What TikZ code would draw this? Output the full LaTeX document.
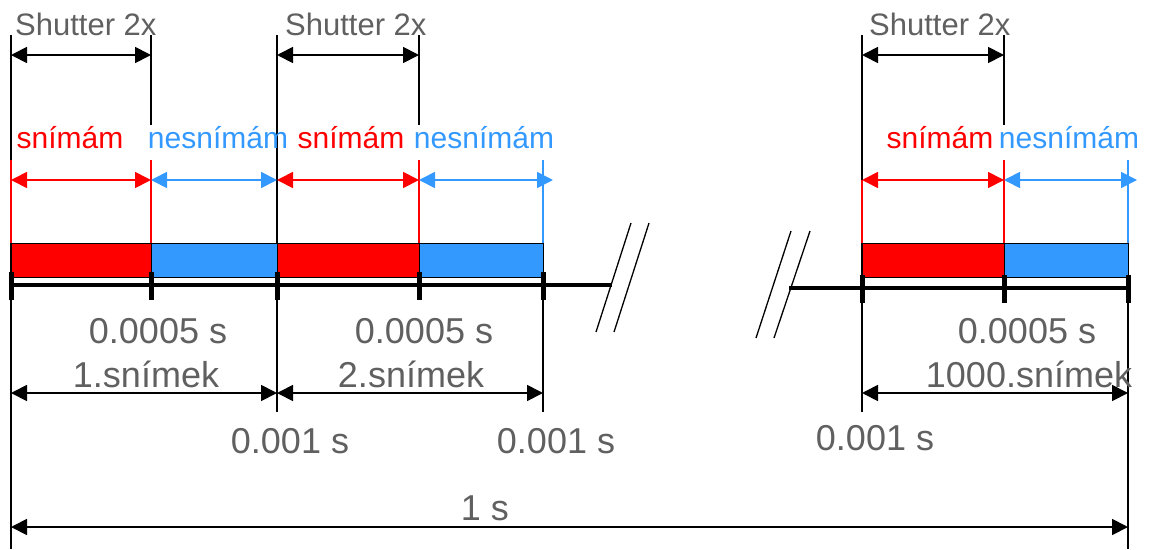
\documentclass[tikz,border=0pt]{standalone}
\usepackage{fontspec}
\setmainfont{Liberation Sans}
\usetikzlibrary{positioning,arrows.meta,calc}
\definecolor{shotred}{RGB}{255,0,0}
\definecolor{idleblue}{RGB}{51,153,255}
\definecolor{labgray}{RGB}{96,96,96}

\begin{document}
\begin{tikzpicture}[x=1pt,y=-1pt,
  dim/.style={{Triangle[length=16pt,width=16pt]}-{Triangle[length=16pt,width=16pt]},line width=1.8pt},
  guide/.style={line width=1.3pt},
  cguide/.style={line width=1.1pt},
  axisline/.style={line width=4.5pt},
  axistick/.style={line width=5pt},
  timelab/.style={text=labgray,font=\fontsize{36}{36}\selectfont,inner sep=0pt,anchor=base},
  shutlab/.style={text=labgray,font=\fontsize{31}{31}\selectfont,inner sep=0pt,anchor=base west},
  phaselab/.style={font=\fontsize{30}{30}\selectfont,inner sep=0pt,anchor=base}]
\useasboundingbox (0,0) rectangle (1153,549);
% time points on the axis (first two frames, then the last one)
\foreach \n/\x in {a0/11,a1/151,a2/277,a3/419,a4/543}{\coordinate (\n) at (\x,285);}
\foreach \n/\x in {b0/862,b1/1004,b2/1128}{\coordinate (\n) at (\x,288);}
% levels
\coordinate (lvTop) at (0,35);   \coordinate (lvShut) at (0,55);
\coordinate (lvMid) at (0,125);  \coordinate (lvCol) at (0,160);
\coordinate (lvPhase) at (0,180);\coordinate (lvBarT) at (0,243);
\coordinate (lvBarB) at (0,277); \coordinate (lvTickB) at (0,300);
\coordinate (lvFrame) at (0,393);\coordinate (lvLow) at (0,412);
\coordinate (lvTotal) at (0,527);\coordinate (lvBot) at (0,549);
% black guide lines
\draw[guide] (a0 |- lvTop) -- (a0 |- lvBot);
\foreach \p in {a1,a3,b1}{\draw[guide] (\p |- lvTop) -- (\p |- lvMid);}
\foreach \p in {a2,b0}{\draw[guide] (\p |- lvTop) -- (\p |- lvLow);}
\draw[guide] (a4 |- lvTickB) -- (a4 |- lvLow);
\draw[guide] (b2 |- lvTickB) -- (b2 |- lvBot);
% coloured guide lines
\foreach \p in {a0,a1,a3,b1}{\draw[cguide,shotred] (\p |- lvCol) -- (\p |- lvBarT);}
\draw[cguide,shotred] (b0 |- lvPhase) -- (b0 |- lvBarT);
\foreach \p in {a4,b2}{\draw[cguide,idleblue] (\p |- lvCol) -- (\p |- lvBarT);}
% exposure bars
\foreach \p/\q/\c in {a0/a1/shotred,a1/a2/idleblue,a2/a3/shotred,a3/a4/idleblue,b0/b1/shotred,b1/b2/idleblue}{
  \filldraw[fill=\c,draw=black,line width=1pt] (\p |- lvBarT) rectangle (\q |- lvBarB);
}
% time axis with break
\coordinate (brkL) at (612,285);
\coordinate (brkR) at (789,288);
\draw[axisline] (a0) -- (brkL);
\draw[axisline] (brkR) -- (b2);
\foreach \p in {a0,a1,a2,a3,a4,b0,b1,b2}{\draw[axistick] ($(\p)+(0,-13)$) -- ($(\p)+(0,15)$);}
\draw[guide] (631,223) -- (596,332);
\draw[guide] (649,223) -- (614,332);
\draw[guide] (791,231) -- (756,338);
\draw[guide] (810,231) -- (774,338);
% shutter spans
\foreach \p/\q/\x in {a0/a1/15,a2/a3/285,b0/b1/869}{
  \draw[dim] (\p |- lvShut) -- (\q |- lvShut);
  \node[shutlab] (shut\p) at (\x,35) {Shutter 2x};
}
% exposure / idle spans
\coordinate (endA) at ($(a4 |- lvPhase)+(10,0)$);
\coordinate (endB) at ($(b2 |- lvPhase)+(9,0)$);
\foreach \p/\q in {a0/a1,a2/a3,b0/b1}{\draw[dim,shotred] (\p |- lvPhase) -- (\q |- lvPhase);}
\draw[dim,idleblue] (a1 |- lvPhase) -- (a2 |- lvPhase);
\draw[dim,idleblue] (a3 |- lvPhase) -- (endA);
\draw[dim,idleblue] (b1 |- lvPhase) -- (endB);
\foreach \x/\n in {70/1,351/2,940/3}{\node[phaselab,text=shotred] (on\n) at (\x,148) {snímám};}
\foreach \x/\n in {218/1,484/2,1069/3}{\node[phaselab,text=idleblue] (off\n) at (\x,148) {nesnímám};}
% frame spans
\draw[dim] (a0 |- lvFrame) -- (a2 |- lvFrame);
\draw[dim] (a2 |- lvFrame) -- (a4 |- lvFrame);
\draw[dim] (b0 |- lvFrame) -- (b2 |- lvFrame);
\draw[dim] (a0 |- lvTotal) -- (b2 |- lvTotal);
\foreach \x/\n in {158/1,424/2,1027/3}{\node[timelab] (half\n) at (\x,343) {0.0005 s};}
\node[timelab] (fr1) at (146,387) {1.snímek};
\node[timelab] (fr2) at (411,387) {2.snímek};
\node[timelab] (fr3) at (1029,387) {1000.snímek};
\foreach \x/\y/\n in {290/453/1,556/453/2,875/450/3}{\node[timelab] (full\n) at (\x,\y) {0.001 s};}
\node[timelab] (total) at (485,520) {1 s};
\end{tikzpicture}
\end{document}
